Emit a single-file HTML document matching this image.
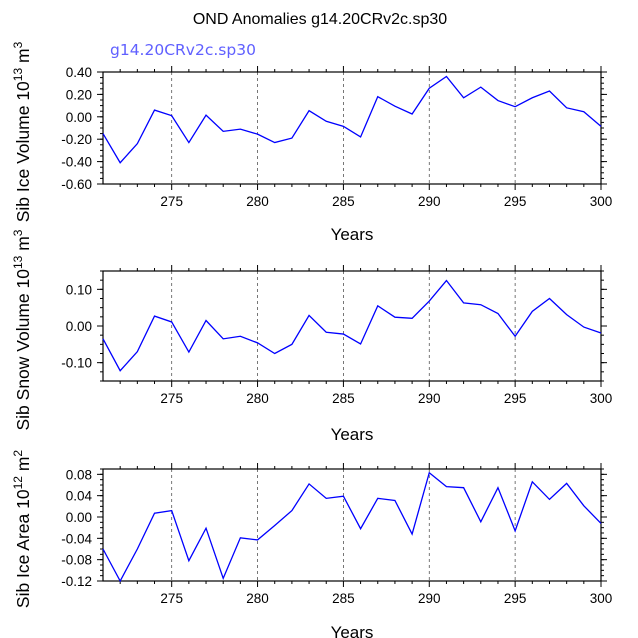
<!DOCTYPE html>
<html><head><meta charset="utf-8"><style>
body{margin:0;background:#fff}
svg{display:block;font-family:"Liberation Sans",sans-serif}
</style></head><body>
<svg id="chart" width="638" height="638" viewBox="0 0 638 638">
<text x="320" y="24" text-anchor="middle" font-size="16">OND Anomalies g14.20CRv2c.sp30</text>
<text x="110" y="55" font-size="15.5" fill="#6060ff" style="font-family:'DejaVu Sans',sans-serif">g14.20CRv2c.sp30</text>
<g id="plots"></g>
</svg>
<script>
const years = [271,272,273,274,275,276,277,278,279,280,281,282,283,284,285,286,287,288,289,290,291,292,293,294,295,296,297,298,299,300];
const iceVolume = [-0.15,-0.41,-0.24,0.06,0.01,-0.23,0.015,-0.13,-0.11,-0.155,-0.23,-0.19,0.055,-0.04,-0.085,-0.18,0.18,0.095,0.025,0.255,0.36,0.17,0.265,0.145,0.09,0.17,0.23,0.08,0.045,-0.085];
const snowVolume = [-0.035,-0.122,-0.07,0.027,0.011,-0.071,0.015,-0.035,-0.028,-0.046,-0.075,-0.05,0.029,-0.017,-0.022,-0.049,0.055,0.024,0.021,0.068,0.124,0.063,0.058,0.034,-0.028,0.04,0.075,0.031,-0.003,-0.019];
const iceArea = [-0.06,-0.12,-0.06,0.007,0.012,-0.082,-0.021,-0.115,-0.039,-0.043,-0.016,0.012,0.062,0.035,0.039,-0.022,0.035,0.031,-0.032,0.083,0.057,0.055,-0.009,0.055,-0.026,0.066,0.033,0.063,0.021,-0.012];
const xTicks = [275,280,285,290,295,300];
const iceVolTicks = [0.4,0.2,0,-0.2,-0.4,-0.6];
const snowTicks = [0.1,0,-0.1];
const areaTicks = [0.08,0.04,0,-0.04,-0.08,-0.12];

const NS="http://www.w3.org/2000/svg";
const root=document.getElementById('plots');
function mk(tag,attrs,parent){const e=document.createElementNS(NS,tag);for(const k in attrs)e.setAttribute(k,attrs[k]);(parent||root).appendChild(e);return e;}
const X0=103,X1=601;
const xs=v=>X0+(v-271)/(300-271)*(X1-X0);

const panels=[
 {name:'ice-volume',top:72,bot:184,min:-0.6,max:0.4,ticks:iceVolTicks,minor:0.05,dec:2,data:iceVolume,lab:'Sib Ice Volume 10',sup:'13',unit:' m',usup:'3',years:233},
 {name:'snow-volume',top:271,bot:381,min:-0.15,max:0.15,ticks:snowTicks,minor:0.025,dec:2,data:snowVolume,lab:'Sib Snow Volume 10',sup:'13',unit:' m',usup:'3',years:433},
 {name:'ice-area',top:469,bot:581,min:-0.12,max:0.09,ticks:areaTicks,minor:0.01,dec:2,data:iceArea,lab:'Sib Ice Area 10',sup:'12',unit:' m',usup:'2',years:631}
];
panels.forEach(p=>{
 const g=mk('g',{});
 
 
 const ys=v=>p.bot-(v-p.min)/(p.max-p.min)*(p.bot-p.top);
 [275,280,285,290,295].forEach(t=>{
  const l=mk('line',{x1:xs(t),x2:xs(t),y1:p.top,y2:p.bot,stroke:'#555','stroke-width':0.8,'stroke-dasharray':'3,3'},g);
  
  
 });
 for(let y=272;y<=300;y++){
  const major=xTicks.includes(y);
  const len=major?6:3;
  mk('line',{x1:xs(y),x2:xs(y),y1:p.top,y2:p.top-len,stroke:'#000','stroke-width':1},g);
  mk('line',{x1:xs(y),x2:xs(y),y1:p.bot,y2:p.bot+len,stroke:'#000','stroke-width':1},g);
 }
 xTicks.forEach(t=>{
  const tx=mk('text',{x:xs(t),y:p.bot+22,'text-anchor':'middle','font-size':13.5},g);
  tx.textContent=t;
  
  
 });
 for(let v=p.min;v<=p.max+1e-9;v+=p.minor){
  mk('line',{x1:X0,x2:X0-3,y1:ys(v),y2:ys(v),stroke:'#000','stroke-width':1},g);
  mk('line',{x1:X1,x2:X1+3,y1:ys(v),y2:ys(v),stroke:'#000','stroke-width':1},g);
 }
 p.ticks.forEach(t=>{
  mk('line',{x1:X0,x2:X0-6,y1:ys(t),y2:ys(t),stroke:'#000','stroke-width':1},g);
  mk('line',{x1:X1,x2:X1+6,y1:ys(t),y2:ys(t),stroke:'#000','stroke-width':1},g);
  const tx=mk('text',{x:X0-11,y:ys(t)+5,'text-anchor':'end','font-size':13.5},g);
  tx.textContent=(Math.abs(t)<1e-9?0:t).toFixed(p.dec);
  
  
 });
 const fr=mk('rect',{x:X0,y:p.top,width:X1-X0,height:p.bot-p.top,fill:'none',stroke:'#000','stroke-width':1.2},g);
 
 
 const line=mk('polyline',{points:p.data.map((v,i)=>xs(years[i])+','+ys(v)).join(' '),fill:'none',stroke:'#0000ff','stroke-width':1.3},g);
 
 
 const cy=(p.top+p.bot)/2+4;
 const yt=mk('text',{x:0,y:0,'text-anchor':'middle','font-size':17.5,transform:`translate(29,${cy}) rotate(-90)`},g);
 yt.innerHTML=p.lab+'<tspan dy="-7" font-size="12">'+p.sup+'</tspan><tspan dy="7">'+p.unit+'</tspan><tspan dy="-7" font-size="12">'+p.usup+'</tspan>';
 
 
 const xt=mk('text',{x:352,y:p.years+7,'text-anchor':'middle','font-size':17},g);
 xt.textContent='Years';
 
 
});
</script>
</body></html>
